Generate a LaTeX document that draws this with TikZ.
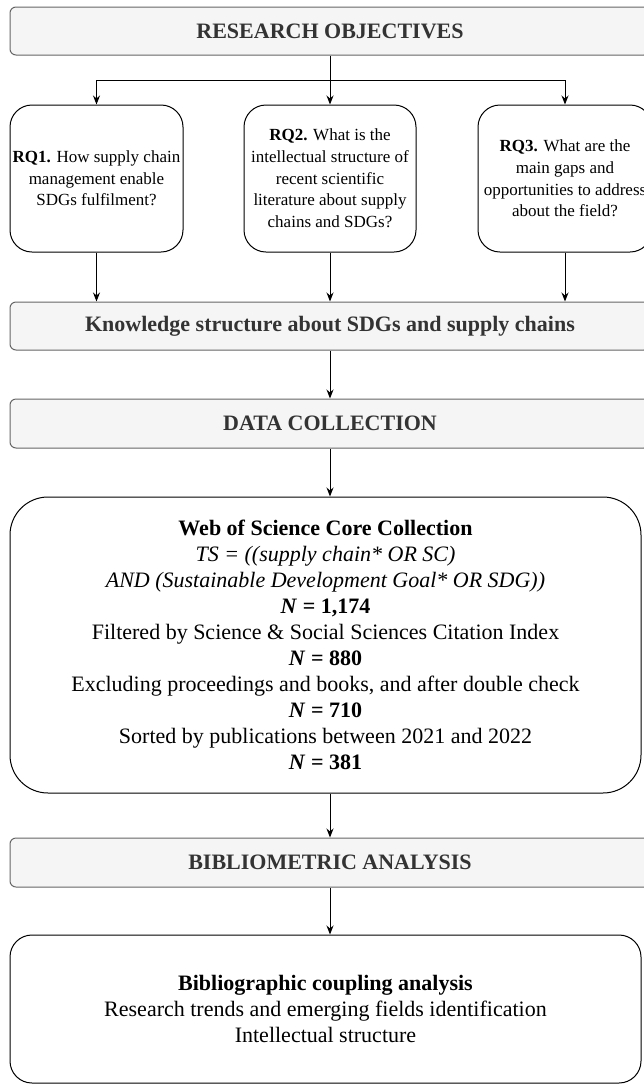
\documentclass[tikz,border=0pt]{standalone}
\usepackage{fontspec}
\setmainfont{Liberation Serif}
\usetikzlibrary{arrows.meta}
\definecolor{boxgray}{HTML}{F5F5F5}
\definecolor{linegray}{HTML}{666666}
\definecolor{textgray}{HTML}{333333}
\begin{document}
\begin{tikzpicture}[x=1pt,y=-1pt,>={Stealth[length=9pt,width=7pt]},line width=1pt,
    graybox/.style={draw=linegray, fill=boxgray, rounded corners=6pt, minimum width=640pt, minimum height=48pt, text=textgray, font=\fontsize{22}{26}\selectfont\bfseries},
    rqbox/.style={draw, rounded corners=22pt, minimum height=147pt, align=center, inner sep=0pt, font=\fontsize{17}{21.7}\selectfont},
    bigbox/.style={draw, minimum width=631pt, align=center, font=\fontsize{22}{26}\selectfont}]
        \useasboundingbox (0,0) rectangle (643,1085);
        \node (obj) [graybox] at (330,31) {RESEARCH OBJECTIVES};
        \coordinate (fork) at (330,80);
        \node (rq1) [rqbox, minimum width=173pt] at (96.5,178.5) {\textbf{RQ1.} How supply chain\\management enable\\SDGs fulfilment?};
        \node (rq2) [rqbox, minimum width=172pt] at (330,178.5) {\textbf{RQ2.} What is the\\intellectual structure of\\recent scientific\\literature about supply\\chains and SDGs?};
        \node (rq3) [rqbox, minimum width=174pt] at (565,178.5) {\textbf{RQ3.} What are the\\main gaps and\\opportunities to address\\about the field?};
        \node (know) [graybox] at (330,326) {Knowledge structure about SDGs and supply chains};
        \node (data) [graybox, minimum height=49pt] at (330,423.5) {DATA COLLECTION};
        \node (wos) [bigbox, rounded corners=38pt, minimum height=296pt] at (325.5,645) {\textbf{Web of Science Core Collection}\\
            \textit{TS = ((supply chain* OR SC)}\\
            \textit{AND (Sustainable Development Goal* OR SDG))}\\
            \textbf{\textit{N} = 1,174}\\
            Filtered by Science \& Social Sciences Citation Index\\
            \textbf{\textit{N} = 880}\\
            Excluding proceedings and books, and after double check\\
            \textbf{\textit{N} = 710}\\
            Sorted by publications between 2021 and 2022\\
            \textbf{\textit{N} = 381}};
        \node (bib) [graybox, minimum height=49pt] at (330,862.5) {BIBLIOMETRIC ANALYSIS};
        \node (res) [bigbox, rounded corners=22pt, minimum height=148pt] at (325.5,1009) {\textbf{Bibliographic coupling analysis}\\
            Research trends and emerging fields identification\\
            Intellectual structure};

        \draw (obj.south) -- (fork);
        \draw[->] (fork) -| (rq1.north);
        \draw[->] (fork) -- (rq2.north);
        \draw[->] (fork) -| (rq3.north);
        \draw[->] (rq1.south) -- (rq1.south |- know.north);
        \draw[->] (rq2.south) -- (know.north);
        \draw[->] (rq3.south) -- (rq3.south |- know.north);
        \draw[->] (know) -- (data);
        \draw[->] (data.south) -- (data.south |- wos.north);
        \draw[->] (bib.north |- wos.south) -- (bib.north);
        \draw[->] (bib.south) -- (bib.south |- res.north);
    \end{tikzpicture}
\end{document}
